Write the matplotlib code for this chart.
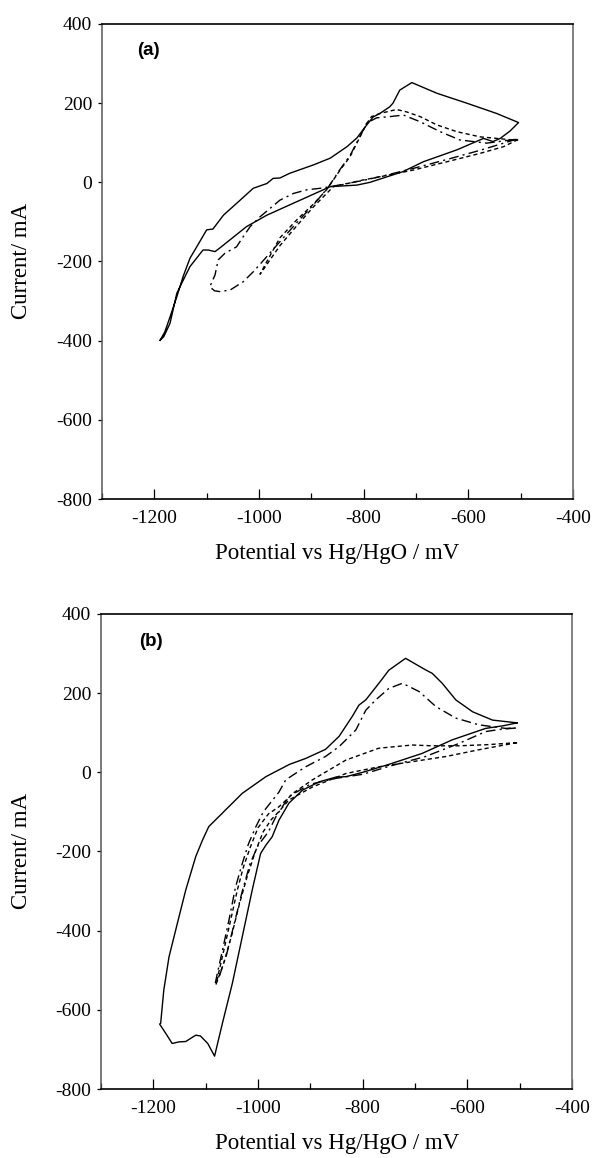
import matplotlib
matplotlib.use("Agg")
import matplotlib.pyplot as plt
from matplotlib.ticker import MultipleLocator

# ---------------- data ----------------
# Panel (a)
a_solid_x = [-1189, -1180, -1170, -1157, -1145, -1132, -1119, -1100, -1088, -1068, -1036, -1011, -985, -973,
             -960, -941, -896, -864, -832, -813, -797, -782, -769, -750, -744, -731, -708, -660, -603, -546, -504,
             -520, -539, -553, -571, -622, -686, -725, -788, -813, -864, -928, -985, -1024, -1075, -1084, -1097,
             -1107, -1132, -1157, -1170, -1182, -1189]
a_solid_y = [-399, -378, -340, -289, -238, -192, -163, -120, -118, -83, -45, -15, -3, 10,
             11, 23, 44, 61, 90, 112, 140, 165, 174, 191, 200, 233, 252, 225, 200, 174, 151,
             130, 111, 103, 111, 82, 52, 27, 0, -7, -11, -49, -83, -112, -166, -175, -171,
             -171, -213, -280, -356, -390, -399]

a_dashdot_x = [-508, -540, -580, -640, -700, -760, -800, -864, -883, -909, -934, -960, -979, -998, -1017, -1030,
               -1043, -1065, -1078, -1084, -1094, -1085, -1075, -1055, -1030, -1011, -990, -960, -928, -896, -868,
               -845, -826, -807, -794, -775, -750, -724, -692, -654, -616, -565, -508]
a_dashdot_y = [109, 96, 80, 58, 37, 17, 5, -11, -15, -19, -28, -45, -66, -87, -112, -137,
               -163, -179, -196, -234, -264, -274, -276, -272, -251, -226, -195, -150, -102, -57, -13,
               33, 68, 116, 150, 163, 166, 170, 153, 128, 107, 99, 109]

a_short_x = [-505, -533, -578, -641, -705, -769, -801, -858, -896, -928, -960, -979, -992, -998,
             -985, -960, -928, -896, -871, -845, -826, -807, -794, -785, -769, -737, -718, -692, -660,
             -622, -578, -514, -505]
a_short_y = [108, 90, 73, 52, 31, 14, 6, -11, -62, -110, -160, -196, -221, -232,
             -200, -140, -95, -55, -19, 31, 65, 115, 149, 166, 174, 184, 178, 166, 145,
             128, 115, 107, 108]

# Panel (b)
b_solid_x = [-505, -530, -565, -629, -686, -750, -800, -832, -851, -883, -915, -941, -960, -973, -985, -995,
             -1011, -1030, -1049, -1068, -1083, -1096, -1110, -1119, -1138, -1151, -1164, -1176, -1188,
             -1186, -1180, -1170, -1154, -1138, -1119, -1106, -1094, -1081, -1062, -1030, -985, -940,
             -909, -871, -845, -820, -807, -794, -769, -750, -718, -680, -667, -648, -622, -590, -552, -505]
b_solid_y = [125, 118, 111, 82, 48, 20, 0, -11, -12, -24, -45, -78, -121, -163, -184, -205,
             -297, -415, -533, -634, -717, -685, -666, -664, -680, -681, -685, -660, -636,
             -634, -550, -466, -381, -297, -213, -171, -137, -120, -95, -53, -11, 20,
             35, 58, 91, 141, 170, 183, 225, 258, 288, 259, 250, 225, 183, 153, 132, 125]

b_dashdot_x = [-508, -540, -565, -616, -680, -750, -800, -850, -900, -940, -965, -980, -1000, -1015, -1030,
               -1045, -1060, -1075, -1082, -1078, -1068, -1055, -1043, -1030, -1018, -1005, -990, -975,
               -960, -947, -909, -871, -845, -813, -794, -775, -750, -724, -692, -660, -622, -578, -527, -508]
b_dashdot_y = [112, 108, 103, 73, 40, 15, -5, -15, -30, -60, -110, -150, -185, -230, -300,
               -380, -460, -520, -535, -510, -450, -370, -290, -230, -180, -140, -100, -75,
               -50, -19, 14, 40, 65, 107, 157, 183, 212, 225, 204, 166, 137, 120, 111, 112]

b_short_x = [-505, -578, -641, -705, -769, -832, -896, -941, -960, -975, -990, -1005, -1020, -1035, -1050,
             -1065, -1080, -1074, -1062, -1050, -1040, -1028, -1015, -1000, -980, -960, -930, -896, -832,
             -769, -705, -667, -616, -560, -505]
b_short_y = [75, 57, 40, 27, 14, -3, -37, -70, -99, -120, -150, -200, -260, -330, -410,
             -480, -535, -500, -430, -360, -300, -240, -190, -140, -105, -87, -50, -19, 31,
             61, 69, 67, 67, 70, 75]

xticks = [-1200, -1000, -800, -600, -400]
yticks = [400, 200, 0, -200, -400, -600, -800]
panel_labels = ["(a)", "(b)"]
xlabel = "Potential vs Hg/HgO / mV"
ylabel = "Current/ mA"

# ---------------- figure ----------------
W, H = 592, 1158
fig = plt.figure(figsize=(W / 100, H / 100), dpi=100)

serif = ["Liberation Serif", "DejaVu Serif"]
sans = ["Liberation Sans", "DejaVu Sans"]

def px_box(l, r, t, b):
    return [l / W, 1 - b / H, (r - l) / W, (b - t) / H]

boxes = [px_box(102, 573, 24, 499), px_box(101, 572, 614, 1089)]
label_pos = [(0.098, 0.945), (0.106, 0.943)]
series = [
    (a_solid_x, a_solid_y, a_dashdot_x, a_dashdot_y, a_short_x, a_short_y),
    (b_solid_x, b_solid_y, b_dashdot_x, b_dashdot_y, b_short_x, b_short_y),
]

for i, (box, s) in enumerate(zip(boxes, series)):
    ax = fig.add_axes(box)
    sx, sy, dx, dy, qx, qy = s
    ax.plot(sx, sy, color="black", lw=1.0, ls="-")
    ax.plot(dx, dy, color="black", lw=1.0, ls=(0, (7, 3, 1.5, 3)))
    ax.plot(qx, qy, color="black", lw=1.0, ls=(0, (3, 2.2)))
    ax.set_xlim(-1300, -400)
    ax.set_ylim(-800, 400)
    ax.set_xticks(xticks)
    ax.xaxis.set_minor_locator(MultipleLocator(100))
    ax.set_yticks(yticks)
    ax.set_xticklabels([str(v) for v in xticks], family=serif, fontsize=14)
    ax.set_yticklabels([str(v) for v in yticks], family=serif, fontsize=14)
    ax.tick_params(axis="x", which="major", direction="in", length=7, width=0.9, pad=8)
    ax.tick_params(axis="x", which="minor", direction="in", length=4, width=0.9)
    ax.tick_params(axis="y", which="major", direction="out", length=3, width=0.9, pad=4)
    for side in ["top", "bottom"]:
        ax.spines[side].set_color("black")
        ax.spines[side].set_linewidth(1.2)
    ax.spines["left"].set_color("#555555")
    ax.spines["right"].set_color("#777777")
    ax.spines["left"].set_linewidth(1.1)
    ax.spines["right"].set_linewidth(1.3)
    lx, ly = label_pos[i]
    ax.text(lx, ly, panel_labels[i], transform=ax.transAxes, family=sans,
            fontweight="bold", fontsize=13.5, ha="center", va="center")

# axis labels placed in pixel positions
fig.text(337 / W, 1 - 553 / H, xlabel, family=serif, fontsize=16.5, ha="center", va="center")
fig.text(337 / W, 1 - 1143 / H, xlabel, family=serif, fontsize=16.5, ha="center", va="center")
fig.text(22 / W, 1 - 261 / H, ylabel, family=serif, fontsize=16.5, ha="center", va="center", rotation=90)
fig.text(22 / W, 1 - 851 / H, ylabel, family=serif, fontsize=16.5, ha="center", va="center", rotation=90)

fig.savefig("out.png", dpi=100)
